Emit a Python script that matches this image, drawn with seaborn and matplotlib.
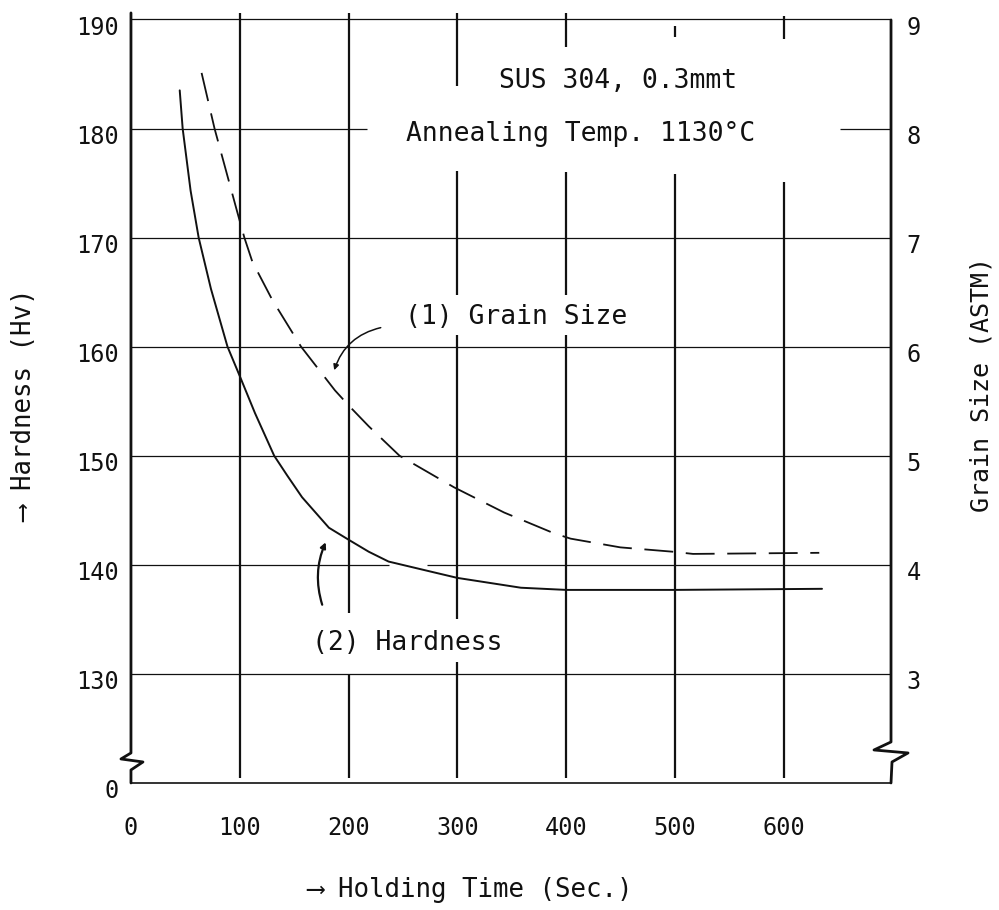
import matplotlib
matplotlib.use("Agg")
import matplotlib.pyplot as plt
import matplotlib.transforms as mtransforms
import seaborn as sns
import pandas as pd

# values
hold_time_hv = [44.8, 47.5, 54.8, 62.2, 73.5, 88.7, 100, 114, 131.6, 143.5, 157.2, 181.9, 200,
                218.5, 236.7, 278.8, 300, 358.3, 400, 500, 635]
hardness_hv = [183.5, 180, 174.3, 170, 165.3, 160, 157.3, 153.9, 150, 148.2, 146.2, 143.4, 142.3,
               141.2, 140.3, 139.3, 138.8, 137.9, 137.7, 137.7, 137.8]

hold_time_gs = [64.9, 76.8, 97.8, 104.2, 111.5, 129.8, 156.3, 187.4, 201.1, 218.5, 246.8,
                297, 342.8, 388.5, 404, 449.7, 498, 516.5, 632.5]
grain_size = [8.51, 8.0, 7.23, 7.0, 6.78, 6.43, 6.0, 5.60, 5.45, 5.27, 5.0, 4.71, 4.48,
              4.29, 4.24, 4.16, 4.12, 4.10, 4.11]

x_ticks = [0, 100, 200, 300, 400, 500, 600]
hv_ticks = [120, 130, 140, 150, 160, 170, 180, 190]
hv_labels = ["0", "130", "140", "150", "160", "170", "180", "190"]
gs_ticks = [3, 4, 5, 6, 7, 8, 9]

ink = "#111111"

sns.set_theme(style="white")
plt.rcParams['font.family'] = ['DejaVu Sans Mono', 'DejaVu Sans']

fig = plt.figure(figsize=(9.99, 9.10), dpi=100)
ax = fig.add_axes([0.1311, 0.1396, 0.7598, 0.8462])
ax2 = ax.twinx()

ax.set_xlim(0, 697.5)
ax.set_ylim(120, 190.6)
ax2.set_ylim(2, 9.06)

# grid drawn by hand, with the gaps the original leaves around its texts
v_grid = {
    100: [(120.5, 190.6)],
    200: [(120.5, 130.0), (135.6, 190.6)],
    300: [(120.5, 131.1), (135.0, 161.1), (164.7, 176.1), (183.9, 190.6)],
    400: [(120.5, 161.1), (164.7, 176.0), (187.5, 190.6)],
    500: [(120.5, 175.8), (188.4, 189.4)],
    600: [(120.5, 175.1), (188.2, 190.3)],
}
h_grid = {
    190: [(0, 697.5)],
    180: [(0, 216.5), (652, 697.5)],
    170: [(0, 697.5)],
    160: [(0, 697.5)],
    150: [(0, 697.5)],
    140: [(0, 237), (272, 697.5)],
    130: [(0, 697.5)],
}
for xv, segs in v_grid.items():
    for lo, hi in segs:
        ax.vlines(xv, lo, hi, color=ink, lw=1.6, zorder=1)
for yv, segs in h_grid.items():
    for lo, hi in segs:
        ax.hlines(yv, lo, hi, color=ink, lw=0.9, zorder=1)

hv_df = pd.DataFrame({"time": hold_time_hv, "hardness": hardness_hv})
gs_df = pd.DataFrame({"time": hold_time_gs, "grain": grain_size})
sns.lineplot(data=hv_df, x="time", y="hardness", ax=ax, color=ink, lw=1.4, zorder=3)
sns.lineplot(data=gs_df, x="time", y="grain", ax=ax2, color=ink, lw=1.3,
             linestyle=(0, (16, 7)), zorder=3)

ax.set_xticks(x_ticks)
ax.set_xticklabels([str(t) for t in x_ticks])
ax.set_yticks(hv_ticks)
ax.set_yticklabels(hv_labels)
ax2.set_yticks(gs_ticks)
ax2.set_yticklabels([str(g) for g in gs_ticks])

ax.tick_params(axis='x', length=0, pad=24, labelsize=17, colors=ink)
ax.tick_params(axis='y', length=0, pad=9, labelsize=17, colors=ink)
ax2.tick_params(axis='y', length=0, pad=12, labelsize=17, colors=ink)

off = mtransforms.ScaledTranslation(0, -4 / 72, fig.dpi_scale_trans)
for lab in ax.get_yticklabels() + ax2.get_yticklabels():
    lab.set_transform(lab.get_transform() + off)

ax.set_xlabel("⟶ Holding Time (Sec.)", fontsize=18.5, color=ink)
ax.xaxis.set_label_coords(0.447, -0.122)
ax.set_ylabel("⟶ Hardness (Hv)", fontsize=18.5, color=ink)
ax.yaxis.set_label_coords(-0.1225, 0.49)
ax2.set_ylabel("Grain Size (ASTM)", fontsize=18, color=ink, rotation=90)
ax2.yaxis.set_label_coords(1.105, 0.517)

for a in (ax, ax2):
    for s in a.spines.values():
        s.set_visible(False)
ax.spines['bottom'].set_visible(True)
ax.spines['bottom'].set_color(ink)
ax.spines['bottom'].set_linewidth(1.2)


# side frames with the broken-axis marks, given in pixels of the figure
def px_to_axes(pts):
    return [(px - 131) / 759 for px, py in pts], [(783 - py) / 770 for px, py in pts]


left_frame = [(131, 13), (131, 753), (121, 759), (143, 762), (131, 770), (131, 783)]
right_frame = [(891, 20), (891, 742), (874, 750), (908, 753), (892, 762), (891, 783)]
for frame in (left_frame, right_frame):
    fx, fy = px_to_axes(frame)
    ax.plot(fx, fy, transform=ax.transAxes, clip_on=False, color=ink, lw=2.0,
            solid_joinstyle='round', zorder=4)

# texts
ax.text(448, 184.4, "SUS 304, 0.3mmt", ha='center', va='center', fontsize=19, color=ink)
ax.text(413, 179.5, "Annealing Temp. 1130°C", ha='center', va='center', fontsize=19, color=ink)
ax.text(354, 162.7, "(1) Grain Size", ha='center', va='center', fontsize=19, color=ink)
ax.text(254, 132.8, "(2) Hardness", ha='center', va='center', fontsize=19, color=ink)

ax.annotate("", xy=(186, 157.6), xytext=(232, 161.8),
            arrowprops=dict(arrowstyle='-|>', color=ink, lw=1.1, mutation_scale=8,
                            connectionstyle='arc3,rad=0.3'))
ax.annotate("", xy=(180, 142.3), xytext=(176.5, 136.1),
            arrowprops=dict(arrowstyle='-|>', color=ink, lw=1.6, mutation_scale=8,
                            connectionstyle='arc3,rad=-0.2'))

fig.savefig("out.png", dpi=100, facecolor="white")
